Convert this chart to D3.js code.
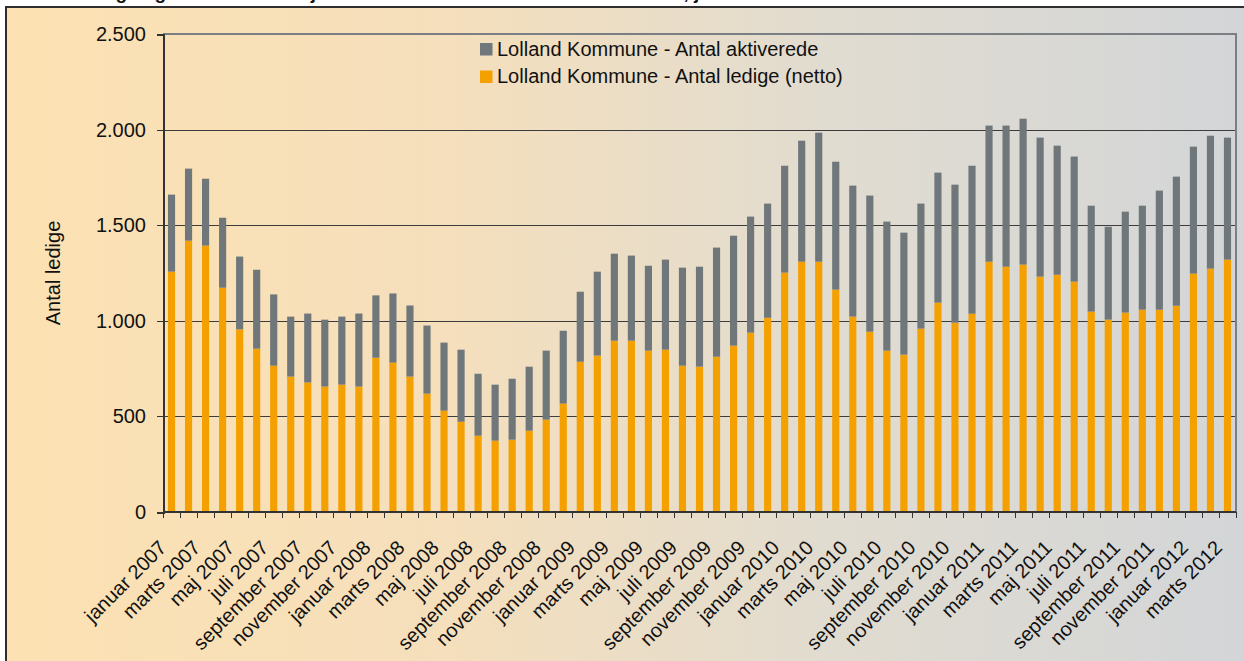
<!DOCTYPE html>
<head>
<meta charset="utf-8">
<style>
  body { margin: 0; background: #fff; }
  text { font-family: Arial, "Liberation Sans", sans-serif; fill: #111; }
  .axis path, .axis line { fill: none; stroke: #333; shape-rendering: crispEdges; }
  .grid line { stroke: #3c3c3c; stroke-width: 1; shape-rendering: crispEdges; }
</style>
</head>
<body>
<svg width="1244" height="661"></svg>
<script src="https://d3js.org/d3.v7.min.js"></script>
<script>
// data (jan 2007 - marts 2012)
var monthNames = ["januar", "februar", "marts", "april", "maj", "juni",
                  "juli", "august", "september", "oktober", "november", "december"];
var years = [2007, 2008, 2009, 2010, 2011, 2012];

var ledige = [1257, 1419, 1393, 1173, 955, 854, 765, 708, 677, 656,
              666, 656, 807, 781, 708, 619, 530, 472, 399, 373,
              378, 425, 483, 567, 786, 818, 896, 896, 844, 849,
              765, 760, 812, 870, 938, 1016, 1252, 1309, 1309, 1163,
              1022, 943, 844, 823, 959, 1095, 990, 1037, 1309, 1283,
              1294, 1231, 1241, 1205, 1048, 1006, 1043, 1058, 1058, 1079,
              1247, 1273, 1320];
var aktiverede = [403, 377, 350, 366, 381, 413, 373, 314, 361, 350,
                  356, 382, 326, 362, 372, 356, 356, 377, 324, 293,
                  319, 335, 361, 381, 366, 439, 455, 445, 444, 471,
                  513, 523, 571, 575, 607, 597, 559, 633, 675, 669,
                  685, 712, 675, 638, 654, 680, 722, 774, 712, 738,
                  763, 727, 675, 654, 554, 486, 528, 544, 623, 675,
                  664, 695, 638];
var seriesNames = ["Lolland Kommune - Antal aktiverede", "Lolland Kommune - Antal ledige (netto)"];
var yTicks = [0, 500, 1000, 1500, 2000, 2500];
// only the bottom of the title is visible in the source
var title = "Antal ledige og aktiverede arbejdsløshedsforsikrede i Lolland Kommune, januar 2007 - marts 2012";

var categories = [];
years.forEach(function(yr) {
  monthNames.forEach(function(m) { categories.push(m + " " + yr); });
});
categories = categories.slice(0, ledige.length);

var data = categories.map(function(c, i) {
  return {cat: c, ledige: ledige[i], aktiverede: aktiverede[i]};
});

var svg = d3.select("svg");
var plot = {left: 163, right: 1236, top: 34, bottom: 512};

var defs = svg.append("defs");
var bg = defs.append("linearGradient").attr("id", "bgGrad")
  .attr("x1", "0%").attr("x2", "100%").attr("y1", "0%").attr("y2", "0%");
bg.append("stop").attr("offset", "0%").attr("stop-color", "#fce1b2");
bg.append("stop").attr("offset", "35%").attr("stop-color", "#f5dfbc");
bg.append("stop").attr("offset", "65%").attr("stop-color", "#e1dcd0");
bg.append("stop").attr("offset", "100%").attr("stop-color", "#d2d5d8");

// title, cut off at the top like in the source picture
svg.append("text")
  .attr("x", 30).attr("y", -1)
  .style("font-size", "19px").style("font-weight", "bold")
  .text(title);

// outer chart box
svg.append("rect")
  .attr("x", 6).attr("y", 7).attr("width", 1260).attr("height", 680)
  .attr("fill", "url(#bgGrad)").attr("stroke", "#2e2e2e").attr("stroke-width", 2);

var x = d3.scaleBand()
  .domain(categories)
  .range([plot.left, plot.right])
  .paddingInner(0.58).paddingOuter(0.29);

var y = d3.scaleLinear().domain([0, 2500]).range([plot.bottom, plot.top]);

var fmt = d3.formatLocale({decimal: ",", thousands: ".", grouping: [3], currency: ["", " kr"]}).format(",");

// gridlines
svg.append("g").attr("class", "grid")
  .selectAll("line")
  .data(yTicks.filter(function(d) { return d > 0 && d < 2500; }))
  .enter().append("line")
  .attr("x1", plot.left).attr("x2", plot.right)
  .attr("y1", function(d) { return Math.round(y(d)) + 0.5; })
  .attr("y2", function(d) { return Math.round(y(d)) + 0.5; });

// plot frame (top + right)
svg.append("path")
  .attr("d", "M" + plot.left + "," + y(2500) + "H" + plot.right + "V" + plot.bottom)
  .attr("fill", "none").attr("stroke", "#7b7f83").attr("stroke-width", 2);

// stacked bars
var stack = d3.stack().keys(["ledige", "aktiverede"]);
var series = stack(data);
var colors = {ledige: "#f4a000", aktiverede: "#6f777b"};

svg.append("g").selectAll("g")
  .data(series)
  .enter().append("g")
  .attr("fill", function(s) { return colors[s.key]; })
  .selectAll("rect")
  .data(function(s) { return s; })
  .enter().append("rect")
  .attr("x", function(d) { return x(d.data.cat); })
  .attr("width", x.bandwidth())
  .attr("y", function(d) { return y(d[1]); })
  .attr("height", function(d) { return y(d[0]) - y(d[1]); });

// y axis
var yAxis = svg.append("g").attr("class", "axis")
  .attr("transform", "translate(" + plot.left + ",0)")
  .call(d3.axisLeft(y).tickValues(yTicks).tickSize(6).tickPadding(11).tickFormat(fmt));
yAxis.select(".domain").attr("stroke-width", 2);
yAxis.selectAll("text").style("font-size", "20px");

// x axis: ticks between categories, labels every other month
var xAxis = svg.append("g").attr("class", "axis")
  .attr("transform", "translate(0," + plot.bottom + ")");
xAxis.append("line")
  .attr("x1", plot.left).attr("x2", plot.right).attr("stroke-width", 2);
xAxis.selectAll(".tk")
  .data(d3.range(categories.length + 1))
  .enter().append("line").attr("class", "tk")
  .attr("x1", function(i) { return Math.round(plot.left + i * x.step()) + 0.5; })
  .attr("x2", function(i) { return Math.round(plot.left + i * x.step()) + 0.5; })
  .attr("y1", 0).attr("y2", 6);

xAxis.selectAll(".lbl")
  .data(categories.filter(function(c, i) { return i % 2 === 0; }))
  .enter().append("text").attr("class", "lbl")
  .attr("text-anchor", "end")
  .style("font-size", "20px")
  .attr("transform", function(c) {
    return "translate(" + (x(c) + x.bandwidth() / 2 - 4) + ",37) rotate(-45)";
  })
  .text(function(c) { return c; });

// y title
svg.append("text")
  .attr("text-anchor", "middle")
  .attr("transform", "translate(60,273) rotate(-90)")
  .style("font-size", "20px")
  .text("Antal ledige");

// legend
var legend = svg.append("g").attr("transform", "translate(480,43)");
var legendKeys = ["aktiverede", "ledige"];
legendKeys.forEach(function(k, i) {
  var row = legend.append("g").attr("transform", "translate(0," + (i * 27.5) + ")");
  row.append("rect").attr("width", 12.5).attr("height", 12.5).attr("fill", colors[k]);
  row.append("text").attr("x", 17).attr("y", 12.7)
    .style("font-size", "20px").text(seriesNames[i]);
});
</script>
</body>
</html>
